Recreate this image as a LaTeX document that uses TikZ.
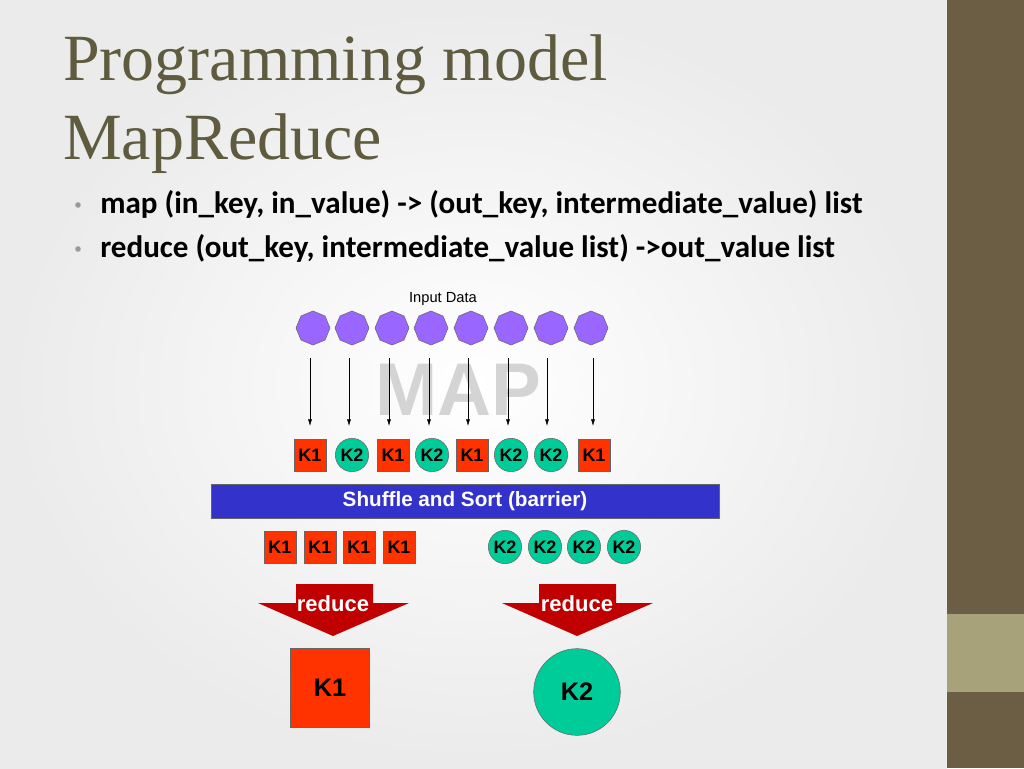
\documentclass[tikz,border=0pt]{standalone}
\usepackage{fontspec}
\setmainfont{Liberation Serif}
\newfontfamily\arial{Liberation Sans}
\newfontfamily\calib{Carlito}
\usetikzlibrary{shapes.geometric,arrows.meta}
\definecolor{kred}{HTML}{FF3300}
\definecolor{kgreen}{HTML}{00CC99}
\definecolor{kpurp}{HTML}{9966FF}
\definecolor{rdark}{HTML}{C00000}
\definecolor{titlec}{HTML}{5E5B3E}
\definecolor{barc}{HTML}{6B5E45}
\definecolor{barl}{HTML}{A8A27A}
\begin{document}
\begin{tikzpicture}[x=0.75pt,y=-0.75pt,
  sq/.style={draw=black!60,fill=kred,minimum size=24pt,inner sep=0pt,font=\arial\bfseries\fontsize{13.5}{13.5}\selectfont},
  ci/.style={circle,draw=black!60,fill=kgreen,minimum size=25pt,inner sep=0pt,font=\arial\bfseries\fontsize{13.5}{13.5}\selectfont},
  oc/.style={regular polygon,regular polygon sides=8,draw=black!60,fill=kpurp,minimum size=25.5pt,inner sep=0pt,shape border rotate=22.5},
  ar/.style={-{Latex[length=5pt,width=3pt]},black},
  red/.style={fill=rdark,draw=none}]
\useasboundingbox (0,0) rectangle (1024,768);
\shade[inner color=white,outer color=black!8] (0,0) rectangle (947,768);
\fill[barc] (947,0) rectangle (1024,768);
\fill[barl] (947,614) rectangle (1024,692);
\node[anchor=base west,inner sep=0pt,text=titlec,font=\fontsize{49.5}{49.5}\selectfont] (t1) at (63,80) {Programming model};
\node[anchor=base west,inner sep=0pt,text=titlec,font=\fontsize{49.5}{49.5}\selectfont] (t2) at (63,159) {MapReduce};
\node[anchor=base west,inner sep=0pt,font=\calib\bfseries\fontsize{23.3}{24}\selectfont] (b1) at (100,213) {map (in\_key, in\_value) -> (out\_key, intermediate\_value) list};
\node[anchor=base west,inner sep=0pt,font=\calib\bfseries\fontsize{23.3}{24}\selectfont] (b2) at (100,257) {reduce (out\_key, intermediate\_value list) ->out\_value list};
\fill[black!40] (78,205) circle (2.8);
\fill[black!40] (78,249) circle (2.8);
\node[font=\arial\fontsize{11}{11}\selectfont] (in) at (443,299) {Input Data};
\node[text=black!17,font=\arial\bfseries\fontsize{56}{56}\selectfont] (map) at (458,390) {MAP};
\foreach \i/\x in {1/313,2/352,3/392,4/431,5/471,6/511,7/551,8/591}
  \node[oc] (o\i) at (\x,328) {};
\foreach \i/\x in {1/310,2/349,3/389,4/429,5/468,6/508,7/547,8/593}{
  \coordinate (s\i) at (\x,358); \coordinate (e\i) at (\x,426);
  \draw[ar] (s\i) -- (e\i);}
\node[sq] (m1) at (310,455) {K1};
\node[ci] (m2) at (352,455) {K2};
\node[sq] (m3) at (393,455) {K1};
\node[ci] (m4) at (432,455) {K2};
\node[sq] (m5) at (472,455) {K1};
\node[ci] (m6) at (511,455) {K2};
\node[ci] (m7) at (551,455) {K2};
\node[sq] (m8) at (594,455) {K1};
\node[draw=black!60,fill={rgb,255:red,51;green,51;blue,204},minimum width=381pt,minimum height=25.5pt,inner sep=0pt,text=white,font=\arial\bfseries\fontsize{15.5}{15.5}\selectfont] (sh) at (465,501) {Shuffle and Sort (barrier)};
\foreach \i/\x in {1/280,2/320,3/359,4/399} \node[sq] (a\i) at (\x,547) {K1};
\foreach \i/\x in {1/505,2/545,3/584,4/624} \node[ci] (c\i) at (\x,547) {K2};
\fill[red] (296,584) -- (373,584) -- (373,603) -- (409,603) -- (333,636) -- (258,603) -- (296,603) -- cycle;
\fill[red] (539,584) -- (616,584) -- (616,603) -- (653,603) -- (577,636) -- (502,603) -- (539,603) -- cycle;
\node[text=white,font=\arial\bfseries\fontsize{16.5}{16.5}\selectfont] (r1) at (333,604) {reduce};
\node[text=white,font=\arial\bfseries\fontsize{16.5}{16.5}\selectfont] (r2) at (577,604) {reduce};
\node[sq,minimum size=59pt,font=\arial\bfseries\fontsize{19}{19}\selectfont] (f1) at (330,688) {K1};
\node[ci,minimum size=65pt,font=\arial\bfseries\fontsize{19}{19}\selectfont] (f2) at (577,692) {K2};
\end{tikzpicture}
\end{document}
